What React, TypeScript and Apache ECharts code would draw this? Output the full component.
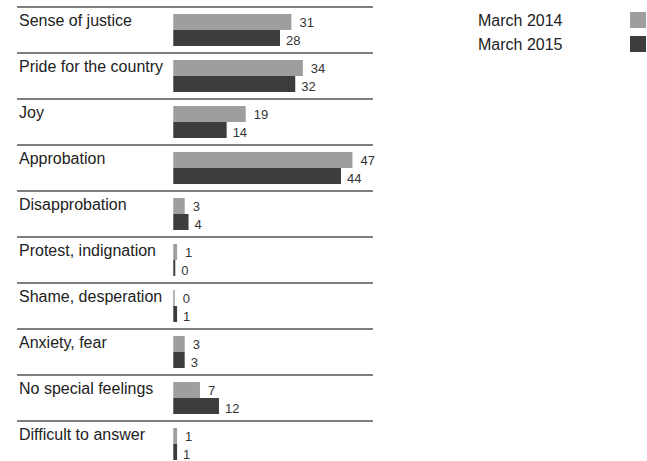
import React, { useEffect, useRef } from "react";
import * as echarts from "echarts";

const categories = [
  "Sense of justice",
  "Pride for the country",
  "Joy",
  "Approbation",
  "Disapprobation",
  "Protest, indignation",
  "Shame, desperation",
  "Anxiety, fear",
  "No special feelings",
  "Difficult to answer",
];
const march2014 = [31, 34, 19, 47, 3, 1, 0, 3, 7, 1];
const march2015 = [28, 32, 14, 44, 4, 0, 1, 3, 12, 1];
const seriesNames = ["March 2014", "March 2015"];

const FONT = "'Liberation Sans', Arial, sans-serif";

export default function App() {
  const ref = useRef<HTMLDivElement>(null);
  useEffect(() => {
    if (!ref.current) return;
    const chart = echarts.init(ref.current, undefined, { renderer: "svg" });
    chart.setOption({
      animation: false,
      textStyle: { fontFamily: FONT },
      legend: {
        orient: "vertical",
        right: 1,
        top: 12,
        padding: 0,
        align: "right",
        itemWidth: 16,
        itemHeight: 16,
        itemGap: 8,
        icon: "rect",
        selectedMode: false,
        formatter: "{a|{name}}",
        textStyle: {
          fontSize: 16,
          color: "#222",
          fontFamily: FONT,
          rich: { a: { width: 147, fontSize: 16, color: "#222", fontFamily: FONT, align: "left" } },
        },
        data: seriesNames,
      },
      grid: { left: 17, top: 7, width: 356, height: 460, containLabel: false },
      xAxis: {
        type: "value",
        min: -41,
        max: 52.4,
        show: false,
      },
      yAxis: {
        type: "category",
        inverse: true,
        data: categories,
        axisLine: { show: false },
        axisTick: { show: false },
        splitLine: {
          show: true,
          interval: 0,
          lineStyle: { color: "#555", width: 1.5 },
        },
        axisLabel: {
          align: "left",
          margin: -2,
          verticalAlign: "bottom",
          fontSize: 16,
          lineHeight: 16,
          padding: [0, 0, 2, 0],
          color: "#222",
          fontFamily: FONT,
          interval: 0,
        },
      },
      series: [
        {
          name: seriesNames[0],
          type: "bar",
          data: march2014,
          barWidth: 16,
          barGap: "0%",
          barMinHeight: 1.5,
          itemStyle: { color: "#9e9e9e" },
          label: {
            show: true,
            position: "right",
            distance: 8,
            fontSize: 13,
            color: "#333",
            fontFamily: FONT,
          },
          emphasis: { disabled: true },
        },
        {
          name: seriesNames[1],
          type: "bar",
          data: march2015,
          barWidth: 16,
          barGap: "0%",
          barMinHeight: 2,
          itemStyle: { color: "#3d3d3d" },
          label: {
            show: true,
            position: "right",
            distance: 6,
            offset: [0, 2],
            fontSize: 13,
            color: "#333",
            fontFamily: FONT,
          },
          emphasis: { disabled: true },
        },
      ],
    });
    return () => chart.dispose();
  }, []);
  return (
    <div
      ref={ref}
      style={{ position: "absolute", left: 0, top: 0, width: 647, height: 470 }}
    />
  );
}
